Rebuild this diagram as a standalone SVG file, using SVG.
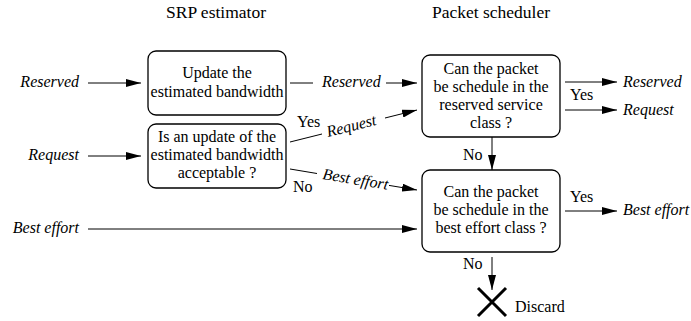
<svg xmlns="http://www.w3.org/2000/svg" width="691" height="321" viewBox="0 0 691 321" font-family="'Liberation Serif', 'Times New Roman', Times, serif">
<style>
text{font-family:'Liberation Serif', 'Times New Roman', Times, serif;fill:#000;}
.t{font-size:16px;}
.title{font-size:17.5px;}
.i{font-size:16px;font-style:italic;}
.box{fill:#fff;stroke:#000;stroke-width:1.3;}
.ln{fill:none;stroke:#000;stroke-width:1;}
.m{text-anchor:middle;}
.e{text-anchor:end;}
</style>
<defs>
<marker id="ah" markerUnits="userSpaceOnUse" markerWidth="16" markerHeight="8" refX="15" refY="4" orient="auto">
<path d="M0,0 L15,4 L0,8 z" fill="#000"/>
</marker>
</defs>
<text class="title m" x="216" y="18">SRP estimator</text>
<text class="title m" x="491" y="18">Packet scheduler</text>

<g id="update">
<rect class="box" x="148" y="51" width="138" height="64" rx="8"/>
<text class="t m" x="217" y="78">Update the</text>
<text class="t m" x="217" y="97">estimated bandwidth</text>
</g>
<g id="accept">
<rect class="box" x="148" y="124" width="138" height="64" rx="8"/>
<text class="t m" x="217" y="142">Is an update of the</text>
<text class="t m" x="217" y="160">estimated bandwidth</text>
<text class="t m" x="217" y="178">acceptable ?</text>
</g>
<g id="reservedclass">
<rect class="box" x="422" y="55" width="138" height="82" rx="8"/>
<text class="t m" x="491" y="74">Can the packet</text>
<text class="t m" x="491" y="92">be schedule in the</text>
<text class="t m" x="491" y="110">reserved service</text>
<text class="t m" x="491" y="128">class ?</text>
</g>
<g id="besteffortclass">
<rect class="box" x="422" y="170" width="138" height="82" rx="8"/>
<text class="t m" x="491" y="197">Can the packet</text>
<text class="t m" x="491" y="215">be schedule in the</text>
<text class="t m" x="491" y="233">best effort class ?</text>
</g>
<g id="discard">
<path d="M478,288 L506,316 M506,288 L478,316" stroke="#000" stroke-width="3" fill="none"/>
<text class="t" x="515" y="312">Discard</text>
</g>

<g id="connectors">
<text class="i e" x="79" y="87">Reserved</text>
<line class="ln" x1="88" y1="83" x2="141" y2="83" marker-end="url(#ah)"/>
<text class="i e" x="79" y="160">Request</text>
<line class="ln" x1="88" y1="156" x2="141" y2="156" marker-end="url(#ah)"/>
<text class="i e" x="79" y="233">Best effort</text>
<line class="ln" x1="88" y1="229" x2="417" y2="229" marker-end="url(#ah)"/>

<line class="ln" x1="290" y1="83" x2="313" y2="83"/>
<text class="i" x="322" y="87">Reserved</text>
<line class="ln" x1="386" y1="83" x2="417" y2="83" marker-end="url(#ah)"/>

<line class="ln" x1="290" y1="142" x2="322" y2="134"/>
<text class="t" x="297" y="127">Yes</text>
<text class="i" transform="translate(328,137) rotate(-14)">Request</text>
<line class="ln" x1="385" y1="118" x2="417" y2="110" marker-end="url(#ah)"/>

<line class="ln" x1="290" y1="169" x2="317" y2="173.5"/>
<text class="t" x="293" y="192">No</text>
<text class="i" transform="translate(322,179) rotate(9.4)">Best effort</text>
<line class="ln" x1="389" y1="185.4" x2="417" y2="190" marker-end="url(#ah)"/>

<line class="ln" x1="565" y1="82" x2="617" y2="82" marker-end="url(#ah)"/>
<text class="i" x="623" y="87">Reserved</text>
<text class="t" x="570" y="100">Yes</text>
<line class="ln" x1="565" y1="110" x2="617" y2="110" marker-end="url(#ah)"/>
<text class="i" x="623" y="115">Request</text>

<line class="ln" x1="492" y1="137" x2="492" y2="170" marker-end="url(#ah)"/>
<text class="t" x="463" y="160">No</text>

<line class="ln" x1="565" y1="211" x2="617" y2="211" marker-end="url(#ah)"/>
<text class="t" x="570" y="202">Yes</text>
<text class="i" x="623" y="215">Best effort</text>

<line class="ln" x1="492" y1="257" x2="492" y2="290" marker-end="url(#ah)"/>
<text class="t" x="463" y="269">No</text>
</g>
</svg>
